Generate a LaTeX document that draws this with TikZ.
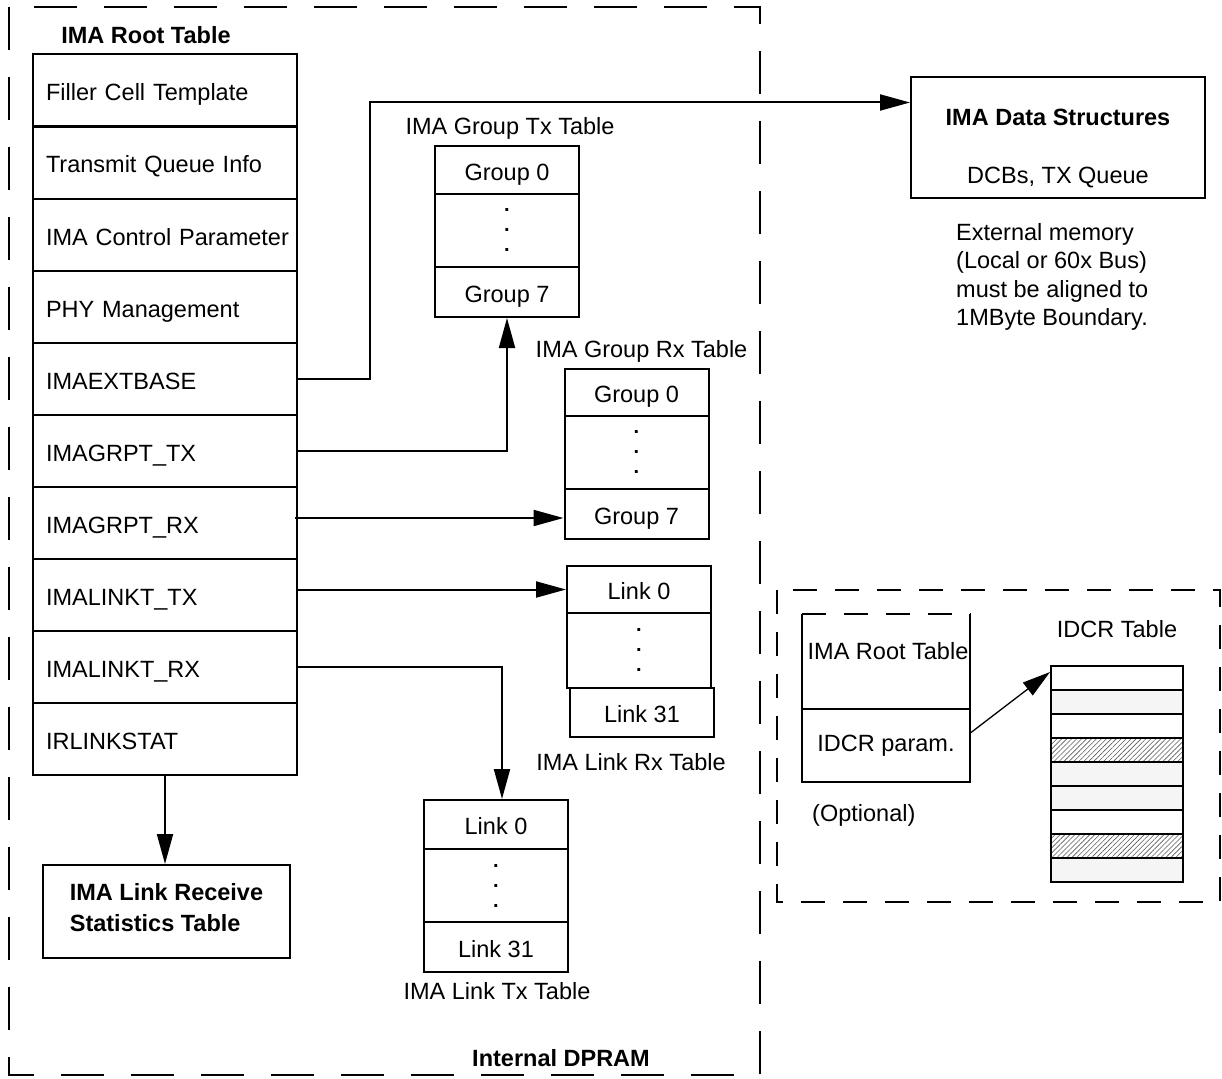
\documentclass[tikz,border=0pt]{standalone}
\usepackage{fontspec}
\setmainfont{Liberation Sans}
\usetikzlibrary{arrows.meta,patterns.meta}
\newcommand{\dpfont}{\fontsize{23.5pt}{28.3pt}\selectfont}

\begin{document}
\begin{tikzpicture}[x=1pt,y=-1pt,
every node/.style={font=\dpfont},
ttl/.style={font=\dpfont\bfseries},
tbox/.style={draw,line width=2pt},
rowbox/.style={tbox,minimum width=264pt,minimum height=72pt,inner xsep=13pt,inner ysep=0pt,text width=238pt,align=left,text height=20pt,text depth=0pt},
cell/.style={tbox,minimum width=144pt,inner sep=0pt,align=center,text height=20pt,text depth=0pt},
dotcell/.style={tbox,minimum width=144pt,inner sep=0pt,align=center,font=\fontsize{20pt}{20pt}\selectfont\bfseries},
idrow/.style={tbox,minimum width=132pt,minimum height=24pt,inner sep=0pt},
lite/.style={idrow,fill=black!4},
hatchrow/.style={idrow,pattern={Lines[angle=45,distance=3.5pt,line width=0.6pt]},pattern color=black!65},
arr/.style={-{Triangle[length=30pt,width=16pt]},line width=2pt},
arrthin/.style={-{Triangle[length=28pt,width=16pt]},line width=1.3pt},
dpram/.style={line width=2pt,dash pattern=on 43pt off 27pt},
optbox/.style={line width=2pt,dash pattern=on 24pt off 18pt}]
\useasboundingbox (0,0) rectangle (1222,1078);
\draw[dpram] (9,7) rectangle (760,1075);
\node[ttl] (rootttl) at (146,35) {IMA Root Table};
\node[rowbox] (r1) at (165,90.5) {Filler Cell Template};
\node[rowbox] (r2) at (165,163) {Transmit Queue Info};
\node[rowbox] (r3) at (165,235) {\mbox{IMA Control Parameter}};
\node[rowbox] (r4) at (165,307) {PHY Management};
\node[rowbox] (r5) at (165,379) {IMAEXTBASE};
\node[rowbox] (r6) at (165,451) {IMAGRPT\_TX};
\node[rowbox] (r7) at (165,523) {IMAGRPT\_RX};
\node[rowbox] (r8) at (165,595) {IMALINKT\_TX};
\node[rowbox] (r9) at (165,667) {IMALINKT\_RX};
\node[rowbox] (r10) at (165,739) {IRLINKSTAT};
\node[tbox,minimum width=247pt,minimum height=93pt,align=left,text depth=8pt,font=\dpfont\bfseries] (stats) at (166.5,911.5) {IMA Link Receive\\[2.7pt]Statistics Table};
\node (gtttl) at (510,128) {IMA Group Tx Table};
\node[cell,minimum height=48pt] (gt0) at (507,170) {Group 0};
\node[dotcell,minimum height=73pt] (gtd) at (507,230.5) {.\\.\\.};
\node[cell,minimum height=50pt] (gt7) at (507,292) {Group 7};
\node (grttl) at (641.5,351) {IMA Group Rx Table};
\node[cell,minimum height=47pt] (gr0) at (636.5,392.5) {Group 0};
\node[dotcell,minimum height=73pt] (grd) at (636.5,452.5) {.\\.\\.};
\node[cell,minimum height=50pt] (gr7) at (636.5,514) {Group 7};
\node[cell,minimum height=47pt] (lr0) at (639,589.5) {Link 0};
\node[dotcell,minimum height=75pt] (lrd) at (639,650.5) {.\\.\\.};
\node[cell,minimum height=49pt] (lr31) at (642,712.5) {Link 31};
\node (lrttl) at (631,762) {IMA Link Rx Table};
\node[cell,minimum height=49pt] (lt0) at (496,824.5) {Link 0};
\node[dotcell,minimum height=73pt] (ltd) at (496,885.5) {.\\.\\.};
\node[cell,minimum height=50pt] (lt31) at (496,947) {Link 31};
\node (ltttl) at (497,991) {IMA Link Tx Table};
\node[ttl] (dpttl) at (561,1058) {Internal DPRAM};
\node[tbox,minimum width=294pt,minimum height=121pt,align=center,text height=97pt,text depth=5pt] (ids) at (1058,137.5) {{\bfseries IMA Data Structures}\\[29.7pt]DCBs, TX Queue};
\node[anchor=west,align=left,inner sep=0pt] (extnote) at (956,277) {External memory\\(Local or 60x Bus)\\must be aligned to\\1MByte Boundary.};
\draw[arr] (r5.east) -- ++(72,0) |- ([yshift=35pt]ids.west);
\draw[arr] (r6.east) -| (gt7.south);
\draw[arr] ([xshift=-3pt,yshift=5pt]r7.east) -- ([yshift=5pt]r7.east -| gr7.west);
\draw[arr] (r8.east |- lr0.west) -- (lr0.west);
\draw[arr] (r9.east) -| ([xshift=6pt]lt0.north);
\draw[arr] (r10.south) -- (r10.south |- stats.north);
\draw[optbox] (777,590) rectangle (1220,902);
\node[minimum width=168pt,minimum height=95pt,inner sep=0pt,text depth=22pt] (ir0) at (886,661.5) {\hspace*{4pt}IMA Root Table};
\draw[line width=2pt] (ir0.north west) -- (ir0.south west) (ir0.north east) -- (ir0.south east);
\draw[optbox] (ir0.north west) -- (ir0.north east);
\node[tbox,minimum width=168pt,minimum height=73pt] (ir1) at (886,745.5) {IDCR param.};
\node[anchor=west,inner sep=0pt] (optl) at (812,815) {(Optional)};
\node (idttl) at (1117,629) {IDCR Table};
\node[idrow] (id1) at (1117,678) {};
\node[lite] (id2) at (1117,702) {};
\node[idrow] (id3) at (1117,726) {};
\node[hatchrow] (id4) at (1117,750) {};
\node[lite] (id5) at (1117,774) {};
\node[lite] (id6) at (1117,798) {};
\node[idrow] (id7) at (1117,822) {};
\node[hatchrow] (id8) at (1117,846) {};
\node[lite] (id9) at (1117,870) {};
\draw[arrthin] ([yshift=13pt]ir1.east) -- ([yshift=-7pt]id1.north west);
\end{tikzpicture}
\end{document}
